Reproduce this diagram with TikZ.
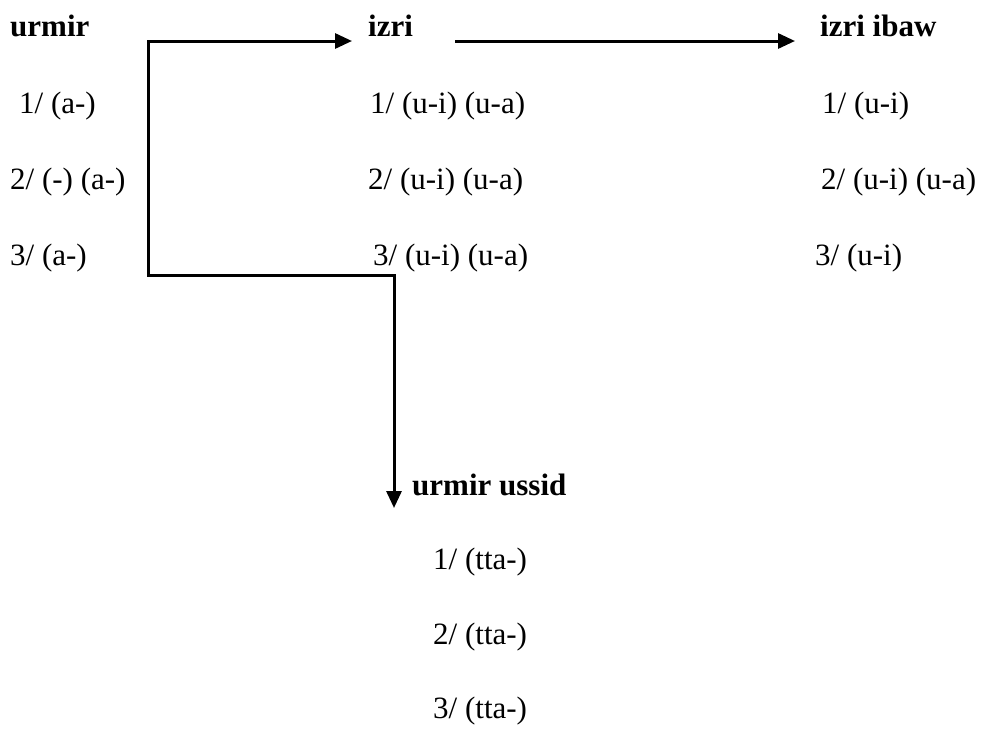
\documentclass[tikz,border=0pt]{standalone}
\usepackage{fontspec}
\setmainfont{Liberation Serif}
\usetikzlibrary{arrows.meta}
\begin{document}
\begin{tikzpicture}[x=1pt,y=-1pt,
  txt/.style={anchor=base west,inner sep=0pt,font=\fontsize{31}{36}\selectfont},
  hd/.style={txt,font=\fontsize{31}{36}\selectfont\bfseries},
  conn/.style={line width=3pt,-{Triangle[length=17pt,width=15pt]}}]
\useasboundingbox (0,0) rectangle (981,729);
% column 1
\node[hd]  (urmir) at (10,36) {urmir};
\node[txt] (u1) at (19,113) {1/ (a-)};
\node[txt] (u2) at (10,189) {2/ (-) (a-)};
\node[txt] (u3) at (10,265) {3/ (a-)};
% column 2
\node[hd]  (izri) at (368,36) {izri};
\node[txt] (i1) at (370,113) {1/ (u-i) (u-a)};
\node[txt] (i2) at (368,189) {2/ (u-i) (u-a)};
\node[txt] (i3) at (373,265) {3/ (u-i) (u-a)};
% column 3
\node[hd]  (ibaw) at (820,36) {izri ibaw};
\node[txt] (b1) at (822,113) {1/ (u-i)};
\node[txt] (b2) at (821,189) {2/ (u-i) (u-a)};
\node[txt] (b3) at (815,265) {3/ (u-i)};
% bottom
\node[hd]  (ussid) at (412,495) {urmir ussid};
\node[txt] (s1) at (433,569) {1/ (tta-)};
\node[txt] (s2) at (433,644) {2/ (tta-)};
\node[txt] (s3) at (433,718) {3/ (tta-)};
% connectors
\coordinate (tl) at (148,41);
\coordinate (bl) at (148,275);
\coordinate (br) at (394,275);
\coordinate (izin) at (352,41);
\coordinate (ussin) at (394,508);
\coordinate (izout) at (455,41);
\coordinate (ibin) at (795,41);
\draw[conn] (br) -- (bl) -- (tl) -- (izin);
\draw[conn] (bl) -- (br) -- (ussin);
\draw[conn] (izout) -- (ibin);
\end{tikzpicture}
\end{document}
